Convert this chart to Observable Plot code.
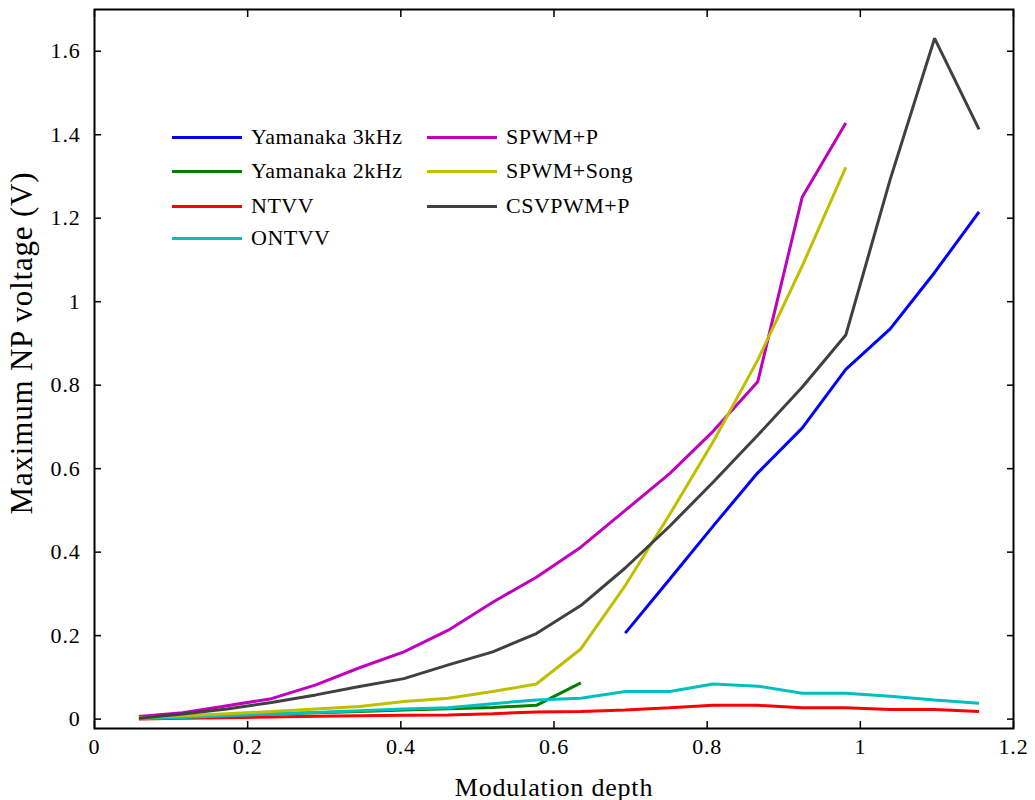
<!DOCTYPE html>
<html>
<head>
<meta charset="utf-8">
<script src="https://cdn.jsdelivr.net/npm/d3@7"></script>
<script src="https://cdn.jsdelivr.net/npm/@observablehq/plot@0.6"></script>
<style>
  html, body { margin: 0; padding: 0; background: #fff; }
  #wrap { position: relative; width: 1035px; height: 800px; font-family: "Liberation Serif", "Times New Roman", serif; }
  #wrap svg text { letter-spacing: 0.8px; }
  g[aria-label="x-axis label"] text { font-size: 26px; letter-spacing: 0.3px; }
  g.ytitle text { letter-spacing: 0.3px; }
  .legend { position: absolute; left: 0; top: 0; font-size: 22px; color: #000; letter-spacing: 0.5px; }
  .legend .item { position: absolute; display: flex; align-items: center; white-space: nowrap; }
  .legend .swatch { display: inline-block; width: 70px; height: 3px; margin-right: 9px; }
</style>
</head>
<body>
<div id="wrap"></div>
<script>
// ---- Data ----
const modDepth = [0.058, 0.115, 0.173, 0.231, 0.289, 0.346, 0.404, 0.462, 0.520, 0.577,
                  0.635, 0.693, 0.751, 0.808, 0.866, 0.924, 0.981, 1.039, 1.097, 1.155];

const seriesNames = ["Yamanaka 3kHz", "Yamanaka 2kHz", "NTVV", "ONTVV", "SPWM+P", "SPWM+Song", "CSVPWM+P"];
const seriesColors = ["#0000ff", "#008000", "#ff0000", "#00bfbf", "#bf00bf", "#bfbf00", "#404040"];

// values indexed like modDepth (null = no point)
const yamanaka3k = [null, null, null, null, null, null, null, null, null, null,
                    null, 0.206, 0.335, 0.463, 0.590, 0.697, 0.838, 0.935, 1.070, 1.215];
const yamanaka2k = [0.002, 0.005, 0.008, 0.012, 0.015, 0.018, 0.022, 0.025, 0.028, 0.033, 0.087];
const ntvv       = [0.000, 0.002, 0.003, 0.005, 0.007, 0.008, 0.009, 0.010, 0.013, 0.017,
                    0.018, 0.022, 0.027, 0.033, 0.033, 0.027, 0.027, 0.023, 0.023, 0.018];
const ontvv      = [0.001, 0.004, 0.008, 0.012, 0.016, 0.020, 0.024, 0.027, 0.037, 0.046,
                    0.050, 0.066, 0.066, 0.084, 0.079, 0.062, 0.062, 0.055, 0.046, 0.038];
const spwmP      = [0.006, 0.015, 0.032, 0.049, 0.082, 0.123, 0.161, 0.213, 0.280, 0.340,
                    0.412, 0.500, 0.588, 0.690, 0.808, 1.250, 1.428];
const spwmSong   = [0.003, 0.008, 0.013, 0.018, 0.024, 0.030, 0.042, 0.050, 0.066, 0.084,
                    0.168, 0.320, 0.490, 0.665, 0.860, 1.085, 1.322];
const csvpwmP    = [0.002, 0.012, 0.024, 0.040, 0.058, 0.078, 0.097, 0.130, 0.161, 0.205,
                    0.272, 0.362, 0.462, 0.568, 0.680, 0.795, 0.920, 1.293, 1.631, 1.413];

const xTicks = [0, 0.2, 0.4, 0.6, 0.8, 1, 1.2];
const yTicks = [0, 0.2, 0.4, 0.6, 0.8, 1, 1.2, 1.4, 1.6];
const xTickLabels = ["0", "0.2", "0.4", "0.6", "0.8", "1", "1.2"];
const yTickLabels = ["0", "0.2", "0.4", "0.6", "0.8", "1", "1.2", "1.4", "1.6"];
const xTitle = "Modulation depth";
const yTitle = "Maximum NP voltage (V)";

// ---- Build long table ----
const seriesValues = [yamanaka3k, yamanaka2k, ntvv, ontvv, spwmP, spwmSong, csvpwmP];
const rows = [];
seriesValues.forEach((vals, si) => {
  vals.forEach((v, i) => {
    if (v != null) rows.push({series: seriesNames[si], x: modDepth[i], y: v});
  });
});

const fmtX = d => xTickLabels[xTicks.indexOf(d)];
const fmtY = d => yTickLabels[yTicks.indexOf(d)];

const chart = Plot.plot({
  width: 1035,
  height: 800,
  marginLeft: 94,
  marginRight: 22,
  marginTop: 9,
  marginBottom: 72,
  style: {fontFamily: "'Liberation Serif', 'Times New Roman', serif", fontSize: "22px", color: "#000", background: "#fff"},
  x: {domain: [0, 1.2]},
  y: {domain: [-0.0225, 1.7]},
  color: {domain: seriesNames, range: seriesColors},
  marks: [
    Plot.line(rows, {x: "x", y: "y", z: "series", stroke: "series", strokeWidth: 3, strokeLinejoin: "miter", strokeLinecap: "butt"}),
    Plot.axisX({ticks: xTicks, tickFormat: fmtX, tickSize: -7, tickPadding: 17, strokeWidth: 1.5,
                label: xTitle, labelAnchor: "center", labelArrow: "none", labelOffset: 67}),
    Plot.axisX({anchor: "top", ticks: xTicks, tickFormat: () => "", tickSize: -7, strokeWidth: 1.5, label: null}),
    Plot.axisY({ticks: yTicks, tickFormat: fmtY, tickSize: -7, tickPadding: 21, strokeWidth: 1.5, label: null}),
    Plot.axisY({anchor: "right", ticks: yTicks, tickFormat: () => "", tickSize: -7, strokeWidth: 1.5, label: null}),
    Plot.text([yTitle], {text: d => d, frameAnchor: "left", rotate: -90, dx: -72, dy: -26,
                         fontSize: 31, lineAnchor: "middle", textAnchor: "middle", className: "ytitle"}),
    Plot.frame({stroke: "#000", strokeWidth: 2})
  ]
});

const wrap = document.getElementById("wrap");
wrap.appendChild(chart);

// ---- Legend (HTML overlay) ----
const legendLayout = [
  {col: 0, row: 0}, {col: 0, row: 1}, {col: 0, row: 2}, {col: 0, row: 3},
  {col: 1, row: 0}, {col: 1, row: 1}, {col: 1, row: 2}
];
const colLeft = [172, 427];
const rowTop = [137, 171, 206, 238];
const legend = document.createElement("div");
legend.className = "legend";
seriesNames.forEach((name, i) => {
  const it = document.createElement("div");
  it.className = "item";
  it.style.left = colLeft[legendLayout[i].col] + "px";
  it.style.top = (rowTop[legendLayout[i].row] - 14) + "px";
  it.style.height = "28px";
  const sw = document.createElement("span");
  sw.className = "swatch";
  sw.style.background = seriesColors[i];
  const tx = document.createElement("span");
  tx.textContent = name;
  it.appendChild(sw);
  it.appendChild(tx);
  legend.appendChild(it);
});
wrap.appendChild(legend);
</script>
</body>
</html>
